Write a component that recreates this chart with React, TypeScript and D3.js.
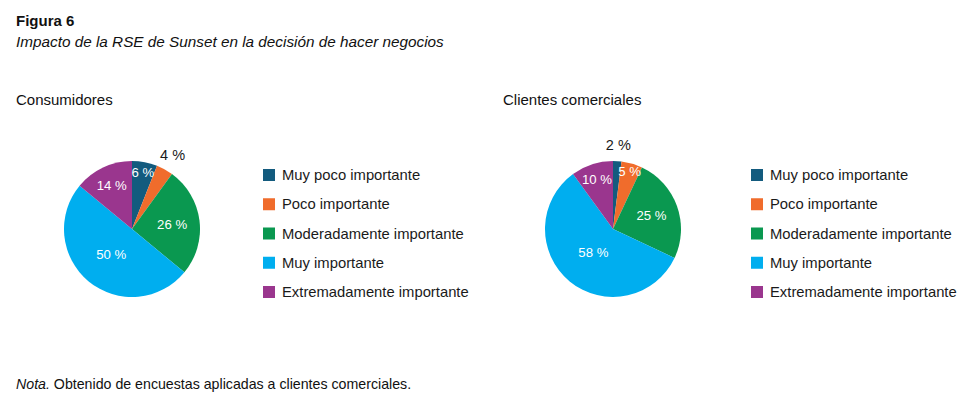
import React from "react";
import * as d3 from "d3";

const categories = [
  "Muy poco importante",
  "Poco importante",
  "Moderadamente importante",
  "Muy importante",
  "Extremadamente importante",
];
const consumidores = [6, 4, 26, 50, 14];
const clientes = [2, 5, 25, 58, 10];
const colors = ["#135b7e", "#f06c2c", "#0a9850", "#00aeef", "#9a368e"];

const W = 976;
const H = 410;
const FONT = "'Liberation Sans', Arial, sans-serif";

type PieProps = { values: number[]; cx: number; cy: number; r: number };

function Pie({ values, cx, cy, r }: PieProps) {
  const pie = d3.pie<number>().sort(null).value((d) => d);
  const arcs = pie(values);
  const arc = d3.arc<d3.PieArcDatum<number>>().innerRadius(0).outerRadius(r);
  const total = d3.sum(values);
  const fracScale = d3.scaleLog().domain([6, 50]).range([0.85, 0.48]);
  return (
    <g transform={`translate(${cx},${cy})`}>
      {arcs.map((a, i) => (
        <path key={i} d={arc(a) || ""} fill={colors[i]} />
      ))}
      {arcs.map((a, i) => {
        const v = a.data;
        const pct = (v / total) * 100;
        const mid = (a.startAngle + a.endAngle) / 2;
        const outside = pct < 4.5;
        const f = outside ? 1.24 : fracScale(pct);
        const x = Math.sin(mid) * r * f;
        const y = -Math.cos(mid) * r * f;
        return (
          <text
            key={i}
            x={x}
            y={y}
            dy="0.35em"
            textAnchor="middle"
            fontFamily={FONT}
            fontSize={outside ? 14.5 : 13.2}
            fill={outside ? "#1a1a1a" : "#ffffff"}
          >
            {`${v} %`}
          </text>
        );
      })}
    </g>
  );
}

function Legend({ x, y }: { x: number; y: number }) {
  const ys = d3.scalePoint<string>().domain(categories).range([0, 117]);
  return (
    <g transform={`translate(${x},${y})`}>
      {categories.map((c, i) => (
        <g key={c} transform={`translate(0,${ys(c)})`}>
          <rect x={0} y={-6} width={12} height={12} fill={colors[i]} />
          <text
            x={19}
            y={0}
            dy="0.35em"
            fontFamily={FONT}
            fontSize={14.8}
            fill="#1a1a1a"
          >
            {c}
          </text>
        </g>
      ))}
    </g>
  );
}

export default function App() {
  return (
    <div style={{ position: "absolute", left: 0, top: 0 }}>
      <svg width={W} height={H} style={{ display: "block", background: "#fff" }}>
        <text x={16} y={26} fontFamily={FONT} fontSize={15} fontWeight="bold" fill="#111">
          Figura 6
        </text>
        <text x={16} y={47} fontFamily={FONT} fontSize={15.3} fontStyle="italic" fill="#111">
          Impacto de la RSE de Sunset en la decisión de hacer negocios
        </text>
        <text x={16} y={105} fontFamily={FONT} fontSize={15} fill="#111">
          Consumidores
        </text>
        <text x={503} y={105} fontFamily={FONT} fontSize={15} fill="#111">
          Clientes comerciales
        </text>

        <Pie values={consumidores} cx={132} cy={229} r={68} />
        <Legend x={263} y={175} />

        <Pie values={clientes} cx={613} cy={229} r={68} />
        <Legend x={751} y={175} />

        <text x={16} y={389} fontFamily={FONT} fontSize={14.2} fill="#111">
          <tspan fontStyle="italic">Nota.</tspan> Obtenido de encuestas aplicadas a clientes comerciales.
        </text>
      </svg>
    </div>
  );
}
